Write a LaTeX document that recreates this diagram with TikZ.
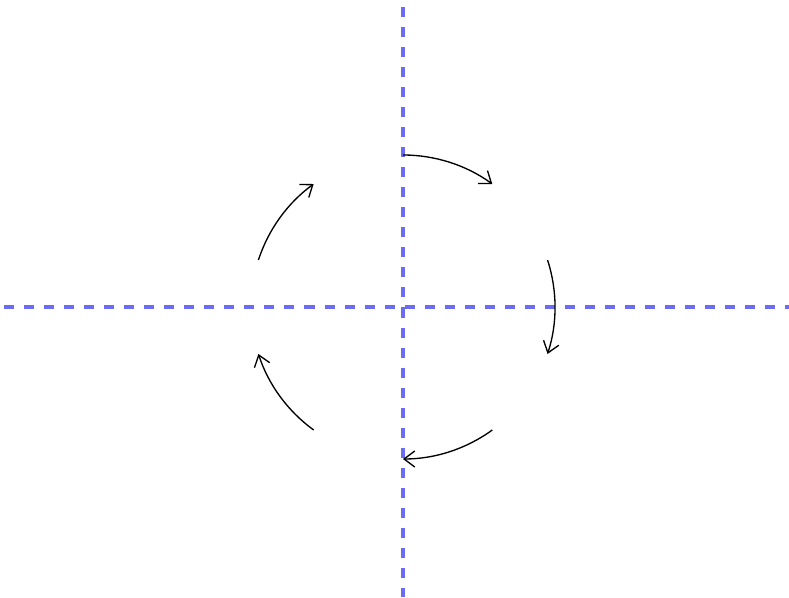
\documentclass[tikz,border=0pt]{standalone}
\usepackage{xcolor}
\usepackage{tikz}
\usetikzlibrary{arrows.meta, calc}
\definecolor{axisblue}{HTML}{6B6BF5}

\begin{document}
\begin{tikzpicture}[
 axisline/.style={draw=axisblue, line width=2.6pt, dash pattern=on 7.5pt off 7.5pt},
 turn/.style={draw=black, line width=1pt, -{Straight Barb[length=8pt, width=12pt]}}]
\useasboundingbox (-10.605,-7.632) rectangle (10.158,8.079);
\coordinate (O) at (0,0);

% axes
\draw[axisline] (-10.5,0) -- (10.158,0);
\draw[axisline] (0,7.895) -- (0,-7.632);

% arcs round the centre
\foreach \s in {90,18,-54,-126,-198}
  {\draw[turn] ($(O)+(\s:4)$) arc[start angle=\s, end angle=\s-36, radius=4];}

\end{tikzpicture}
\end{document}
